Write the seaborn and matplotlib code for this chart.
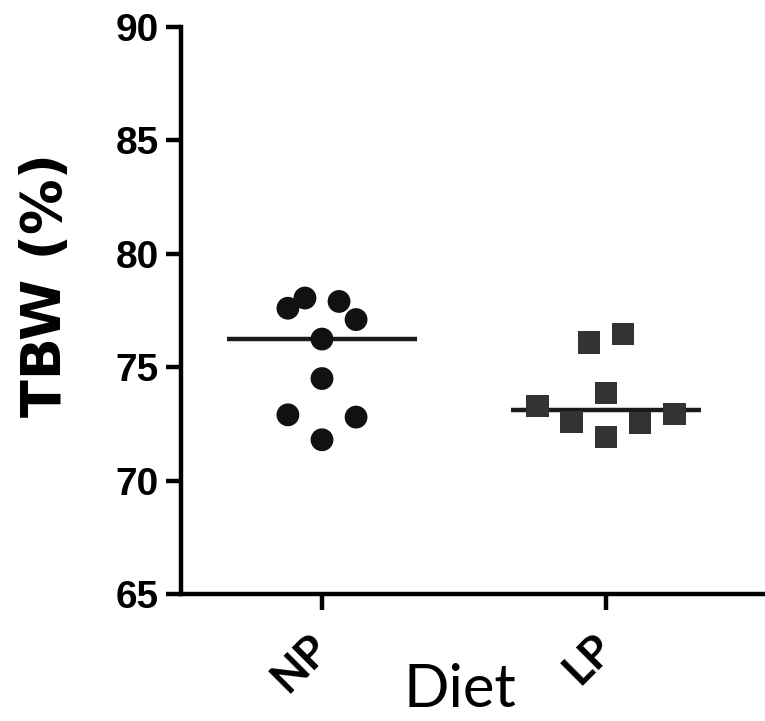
import pandas as pd
import seaborn as sns
import matplotlib.pyplot as plt

# values
diets = ["NP", "LP"]
np_values = [77.6, 78.05, 77.9, 77.1, 76.24, 74.5, 72.9, 72.8, 71.8]
np_offsets = [-0.12, -0.06, 0.06, 0.12, 0.0, 0.0, -0.12, 0.12, 0.0]
lp_values = [76.1, 76.46, 73.86, 73.29, 72.58, 71.92, 72.54, 72.94]
lp_offsets = [-0.06, 0.06, 0.0, -0.24, -0.12, 0.0, 0.12, 0.24]

df = pd.DataFrame({
    "Diet": ["NP"] * len(np_values) + ["LP"] * len(lp_values),
    "TBW": np_values + lp_values,
    "offset": np_offsets + lp_offsets,
})
df["pos"] = df["Diet"].map({d: i for i, d in enumerate(diets)}) + df["offset"]

sns.set_style("ticks")
plt.rcParams["text.color"] = "black"
plt.rcParams["axes.labelcolor"] = "black"

fig = plt.figure(figsize=(7.65, 7.21), dpi=100)
ax = fig.add_axes([181 / 765, 127 / 721, (765 - 181) / 765, 567 / 721])

sns.scatterplot(
    data=df, x="pos", y="TBW", hue="Diet", style="Diet",
    markers={"NP": "o", "LP": "s"},
    palette={"NP": "#111111", "LP": "#333333"},
    s=270, linewidth=0, legend=False, ax=ax, zorder=3,
)

# median lines
medians = df.groupby("Diet")["TBW"].median()
for i, d in enumerate(diets):
    ax.hlines(medians[d], i - 0.333, i + 0.333, color="#1a1a1a", lw=3.2, zorder=2)

ax.set_xlim(-0.4965, 1.56)
ax.set_ylim(65, 90)
ax.set_yticks(range(65, 91, 5))
ax.set_xticks(range(len(diets)))
ax.set_xticklabels(diets, rotation=45, ha="right", va="center",
                   rotation_mode="anchor", fontsize=32, fontweight="bold",
                   family="Lato")
for lab in ax.get_yticklabels():
    lab.set_fontsize(28)
    lab.set_fontweight("bold")
    lab.set_family("Liberation Sans")

sns.despine(ax=ax)
for sp in ["left", "bottom"]:
    ax.spines[sp].set_linewidth(3.2)
    ax.spines[sp].set_color("black")
ax.tick_params(axis="y", length=11, width=3.2, pad=5, colors="black")
ax.tick_params(axis="x", length=11.5, width=3.2, pad=22, colors="black")

ax.set_ylabel("TBW (%)", fontsize=40, fontweight="bold", family="DejaVu Sans")
ax.yaxis.set_label_coords(-0.185, 0.545)
ax.set_xlabel("Diet", fontsize=43, family="Lato")
ax.xaxis.set_label_coords(0.478, -0.122)

fig.savefig("out.png", dpi=100)
